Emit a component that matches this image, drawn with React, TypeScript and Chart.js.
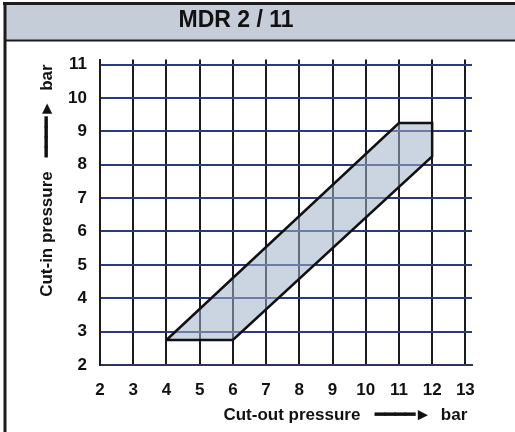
import React, { useEffect, useRef } from "react";
import { Chart, registerables } from "chart.js";

Chart.register(...registerables);

const chartTitle = "MDR 2 / 11";
const xAxisTitle = "Cut-out pressure   ━━━━►  bar ";
const yAxisTitle = "Cut-in pressure   ━━━━►  bar ";
const xTicks = [2, 3, 4, 5, 6, 7, 8, 9, 10, 11, 12, 13];
const yTicks = [2, 3, 4, 5, 6, 7, 8, 9, 10, 11];
// polygon corners: cut-out pressure (x) / cut-in pressure (y)
const cutOut = [4, 6, 12, 12, 11, 4];
const cutIn = [2.75, 2.75, 8.25, 9.25, 9.25, 2.75];

const FONT = "'Liberation Sans', Arial, Helvetica, sans-serif";

const framePlugin = {
  id: "frame",
  beforeDraw(chart: any) {
    const { ctx, width, height } = chart;
    ctx.save();
    ctx.fillStyle = "#ffffff";
    ctx.fillRect(0, 0, width, height);
    ctx.fillStyle = "#c5cdd9";
    ctx.fillRect(5, 4, width - 5, 36);
    ctx.strokeStyle = "#1c1c1c";
    ctx.lineWidth = 3;
    ctx.beginPath();
    ctx.moveTo(3, 3.5);
    ctx.lineTo(width, 3.5);
    ctx.stroke();
    ctx.lineWidth = 2;
    ctx.beginPath();
    ctx.moveTo(4, 40.5);
    ctx.lineTo(width, 40.5);
    ctx.stroke();
    ctx.lineWidth = 3;
    ctx.beginPath();
    ctx.moveTo(5, 2);
    ctx.lineTo(5, height);
    ctx.stroke();
    ctx.restore();
  },
};

export default function App() {
  const ref = useRef<HTMLCanvasElement | null>(null);

  useEffect(() => {
    if (!ref.current) return;
    const points = cutOut.map((x, i) => ({ x, y: cutIn[i] }));
    const chart = new Chart(ref.current, {
      type: "scatter",
      data: {
        datasets: [
          {
            data: points,
            showLine: true,
            fill: "shape",
            backgroundColor: "rgba(160,178,200,0.55)",
            borderColor: "#111111",
            borderWidth: 2.5,
            pointRadius: 0,
            tension: 0,
          } as any,
        ],
      },
      options: {
        animation: false,
        responsive: false,
        devicePixelRatio: 1,
        layout: { padding: { left: 0, right: 43, top: 0, bottom: 0 } },
        plugins: {
          legend: { display: false },
          tooltip: { enabled: false },
          title: {
            display: true,
            text: chartTitle,
            color: "#111111",
            font: { family: FONT, size: 23, weight: "bold" },
            padding: { top: 7, bottom: 25 },
          },
        },
        scales: {
          x: {
            type: "linear",
            min: 2,
            max: 13.2,
            afterBuildTicks: (s: any) => {
              s.ticks = xTicks.map((v) => ({ value: v }));
            },
            afterFit: (s: any) => {
              s.height = 67;
            },
            grid: {
              color: "#1a1a22",
              lineWidth: 2,
              drawTicks: false,
            },
            border: { display: true, color: "#2a3560", width: 2 },
            ticks: {
              color: "#111111",
              padding: 15,
              font: { family: FONT, size: 17, weight: "bold" },
              callback: (v: any) => String(v),
            },
            title: {
              display: true,
              text: xAxisTitle,
              align: "end",
              color: "#111111",
              font: { family: FONT, size: 17, weight: "bold" },
              padding: { top: 0, bottom: 6 },
            },
          },
          y: {
            type: "linear",
            min: 2,
            max: 11.15,
            afterBuildTicks: (s: any) => {
              s.ticks = yTicks.map((v) => ({ value: v }));
            },
            afterFit: (s: any) => {
              s.width = 100;
            },
            grid: {
              color: "#2b3a80",
              lineWidth: 2,
              drawTicks: false,
            },
            border: { display: true, color: "#1a1a22", width: 2 },
            ticks: {
              color: "#111111",
              padding: 13,
              font: { family: FONT, size: 17, weight: "bold" },
              callback: (v: any) => String(v),
            },
            title: {
              display: true,
              text: yAxisTitle,
              align: "end",
              color: "#111111",
              font: { family: FONT, size: 17, weight: "bold" },
              padding: { top: 37, bottom: 0 },
            },
          },
        },
      },
      plugins: [framePlugin],
    } as any);
    return () => chart.destroy();
  }, []);

  return (
    <div style={{ position: "fixed", left: 0, top: 0, width: 515, height: 432 }}>
      <canvas ref={ref} width={515} height={432} style={{ display: "block" }} />
    </div>
  );
}
